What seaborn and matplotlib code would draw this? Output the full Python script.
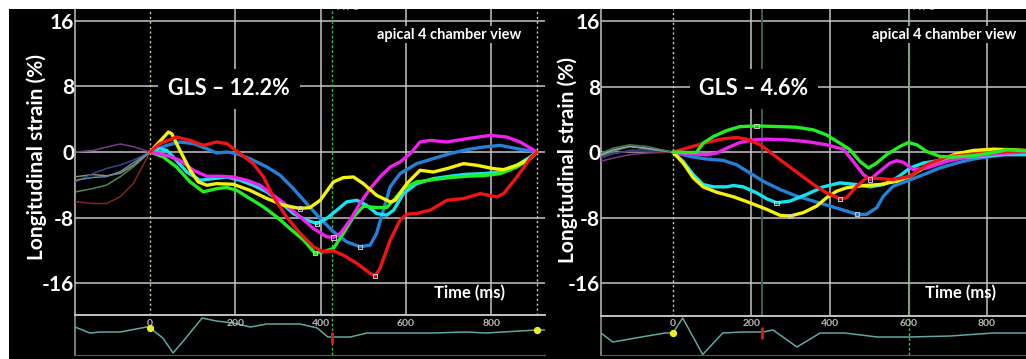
import matplotlib
matplotlib.use("Agg")
import matplotlib.pyplot as plt
import matplotlib.transforms as mtrans
from matplotlib.patches import Rectangle
import seaborn as sns
import pandas as pd
import numpy as np

# ---------------- data: left panel (GLS -12.2%) ----------------
L_yellow_t = [0, 43, 51, 70, 94, 113, 133, 156, 195, 234, 274, 313, 352, 375, 399, 430, 453, 477, 500, 531, 563, 575, 602, 633, 664, 696, 735, 766, 805, 829, 860, 891, 907]
L_yellow_v = [0, 2.44, 2.23, 0.2, -2.23, -3.65, -4.06, -3.86, -3.94, -4.67, -5.68, -6.5, -6.9, -6.78, -5.89, -3.65, -3.13, -3.05, -3.86, -5.28, -6.09, -5.89, -3.86, -2.23, -2.44, -2.03, -1.42, -1.62, -2.03, -2.15, -1.62, -0.81, 0]
L_red_t = [0, 23, 62, 94, 125, 156, 180, 211, 242, 266, 289, 320, 352, 383, 406, 430, 453, 485, 516, 528, 539, 563, 586, 602, 625, 657, 696, 735, 774, 813, 829, 860, 891, 907]
L_red_v = [0, 1.02, 1.83, 1.42, 0.81, 1.22, 1.02, -0.2, -1.42, -3.05, -5.48, -7.92, -9.95, -11.57, -12.18, -12.06, -12.59, -13.6, -14.82, -15.14, -14.21, -10.76, -8.32, -7.59, -7.51, -7.1, -5.89, -5.68, -5.08, -5.48, -5.08, -3.05, -0.81, 0]
L_blue_t = [0, 39, 70, 102, 133, 156, 180, 203, 234, 274, 305, 336, 367, 399, 430, 461, 492, 516, 531, 547, 563, 586, 625, 664, 703, 742, 782, 821, 860, 907]
L_blue_v = [0, 0.81, 1.22, 1.02, 0.41, -0.12, 0, -0.2, -0.81, -1.83, -2.84, -4.47, -6.29, -8.12, -9.74, -10.96, -11.57, -11.37, -9.95, -7.1, -4.26, -2.64, -1.42, -0.81, -0.2, 0.28, 0.61, 0.81, 0.41, 0]
L_cyan_t = [0, 23, 39, 62, 86, 117, 148, 180, 211, 242, 274, 305, 336, 367, 391, 414, 438, 461, 485, 508, 531, 555, 571, 594, 625, 664, 703, 742, 782, 821, 860, 891, 907]
L_cyan_v = [0, 0.41, 0.2, -1.02, -2.44, -3.45, -3.25, -3.05, -3.45, -4.06, -4.87, -6.09, -7.51, -8.32, -8.73, -8.12, -7.1, -6.09, -5.89, -6.5, -7.51, -7.71, -7.1, -5.08, -3.86, -3.25, -2.96, -2.72, -2.64, -2.44, -1.62, -0.61, 0]
L_magenta_t = [0, 39, 70, 102, 133, 164, 195, 227, 258, 289, 320, 352, 383, 414, 430, 446, 469, 492, 516, 539, 563, 586, 610, 633, 657, 696, 742, 797, 836, 868, 907]
L_magenta_v = [0, -0.41, -1.02, -2.23, -2.96, -2.96, -3.05, -3.45, -4.06, -5.28, -6.5, -7.92, -9.34, -10.35, -10.43, -9.95, -8.32, -6.29, -4.47, -3.05, -1.83, -1.22, -0.2, 1.22, 1.42, 1.22, 1.62, 2.03, 1.83, 1.22, 0]
L_green_t = [0, 31, 62, 94, 125, 156, 180, 203, 234, 266, 297, 328, 360, 387, 406, 430, 453, 477, 500, 531, 555, 571, 594, 625, 664, 703, 742, 782, 821, 860, 891, 907]
L_green_v = [0, -0.61, -1.83, -3.65, -4.87, -4.47, -4.34, -4.67, -5.68, -6.7, -7.92, -9.34, -10.76, -12.38, -12.18, -11.77, -9.95, -7.92, -6.62, -6.78, -6.78, -5.89, -4.47, -3.65, -3.37, -3.13, -2.96, -2.88, -2.64, -1.83, -0.81, 0]

# thin traces before the reference point
L_pre_t = [-174, -133, -102, -70, -39, 0]
L_pre_purple = [0, 0.2, 0.6, 0.98, 0.65, 0]
L_pre_darkred = [-6.08, -6.29, -6.29, -5.47, -3.84, 0]
L_pre_olive = [-4.86, -4.45, -4.04, -3.02, -1.8, 0]
L_pre_tan = [-3.02, -2.75, -2.9, -2.6, -1.6, 0]
L_pre_navy = [-3.63, -2.61, -2.0, -1.59, -0.98, 0]
L_pre_slate = [-3.43, -3.1, -3.0, -2.4, -1.3, 0]

L_ecg_t = [-176, -141, -117, -70, -8, 0, 30, 54, 80, 122, 155, 195, 235, 274, 352, 392, 417, 469, 509, 586, 663, 741, 788, 907, 926]
L_ecg_v = [0.8, 0.2, 0.3, 0.3, 0.8, 0.7, -0.3, -1.8, -0.5, 1.7, 1.4, 1.2, 0.8, 1.1, 1.1, 0.7, -0.2, -0.2, 0.2, 0.2, 0.2, 0.3, 0.2, 0.5, 0.5]

# ---------------- data: right panel (GLS -4.6%) ----------------
R_green_t = [0, 35, 60, 77, 103, 137, 171, 213, 273, 315, 358, 391, 425, 451, 476, 498, 519, 544, 578, 600, 621, 646, 680, 714, 765, 808, 850, 899]
R_green_v = [0, -0.04, -0.04, 1.09, 1.9, 2.63, 3.11, 3.19, 3.11, 3.03, 2.71, 2.1, 1.09, 0.28, -1.13, -1.94, -1.33, -0.32, 0.69, 1.17, 0.89, 0.08, -0.53, -0.61, -0.44, -0.12, 0.28, 0.16]
R_red_t = [0, 35, 86, 128, 162, 188, 222, 256, 290, 324, 358, 391, 425, 442, 468, 493, 527, 561, 604, 646, 697, 748, 799, 850, 899]
R_red_v = [0, 0.48, 1.17, 1.62, 1.78, 1.58, 0.89, -0.32, -1.54, -2.75, -3.96, -4.97, -5.7, -5.58, -4.16, -3.15, -3.23, -3.35, -2.95, -1.54, -0.61, -0.32, -0.12, 0.08, 0.16]
R_magenta_t = [0, 43, 86, 111, 137, 171, 205, 239, 290, 340, 391, 434, 459, 485, 502, 527, 553, 570, 587, 612, 646, 697, 748, 799, 850, 899]
R_magenta_v = [0, -0.2, -0.32, -0.12, 0.48, 1.17, 1.49, 1.58, 1.49, 1.29, 0.89, 0.36, -1.13, -2.75, -3.35, -2.34, -1.33, -1.05, -1.25, -2.14, -1.94, -1.13, -0.61, -0.32, -0.12, 0]
R_blue_t = [0, 43, 86, 128, 162, 196, 230, 273, 315, 358, 400, 442, 468, 493, 519, 536, 561, 595, 638, 680, 723, 765, 808, 850, 899]
R_blue_v = [0, -0.53, -0.85, -1.01, -1.54, -2.55, -3.56, -4.57, -5.37, -5.98, -6.59, -7.19, -7.6, -7.6, -6.79, -5.37, -4.16, -3.56, -2.75, -1.94, -1.33, -0.85, -0.53, -0.24, -0.12]
R_cyan_t = [0, 26, 52, 77, 103, 137, 154, 179, 213, 239, 264, 298, 340, 383, 425, 468, 502, 536, 570, 604, 638, 680, 723, 782, 842, 899]
R_cyan_v = [0, -1.13, -2.75, -3.96, -4.24, -4.24, -4.08, -4.24, -4.97, -5.7, -6.18, -5.98, -5.17, -4.24, -3.76, -3.96, -4.24, -3.96, -3.15, -1.94, -1.33, -1.01, -0.73, -0.53, -0.32, -0.32]
R_yellow_t = [0, 26, 52, 77, 111, 154, 196, 239, 273, 298, 332, 366, 391, 417, 442, 485, 527, 570, 604, 638, 680, 723, 765, 816, 867, 899]
R_yellow_v = [0, -1.33, -3.15, -4.24, -4.89, -5.45, -6.18, -6.99, -7.72, -7.8, -7.39, -6.59, -5.58, -4.77, -4.36, -4.08, -3.96, -3.56, -2.95, -1.94, -0.93, -0.2, 0.2, 0.36, 0.28, 0.2]

R_pre_t = [-183, -152, -110, -67, 0]
R_pre_dkgreen = [-0.12, 0.48, 0.89, 0.69, 0]
R_pre_gray = [-0.32, 0.28, 0.69, 0.48, 0]
R_pre_purple = [-1.13, -0.73, -0.32, -0.12, 0]
R_pre_darkred = [-0.53, -0.12, 0.08, 0.08, 0]
R_pre_navy = [-0.73, -0.2, 0.2, 0.28, 0]
R_pre_teal = [-0.45, 0.1, 0.7, 0.4, 0]

R_ecg_t = [-183, -153, -80, -20, 0, 25, 76, 127, 178, 229, 255, 316, 375, 438, 520, 604, 706, 815, 899]
R_ecg_v = [0.2, -0.7, -0.2, 0.2, 0.2, 1.7, -1.95, 0.2, 0.3, 0.3, 0.5, -1.2, 0.2, 0.2, -0.2, -0.2, -0.1, 0.2, 0.2]

seg_colors = {'blue': '#2481d8', 'cyan': '#14e4f2', 'green': '#22ee22',
              'magenta': '#ee22ee', 'yellow': '#f6f20c', 'red': '#f21414'}
pre_colors = {'purple': '#7a3a86', 'darkred': '#862222', 'olive': '#4e8a50',
              'tan': '#958a68', 'navy': '#34458e', 'slate': '#5f86aa',
              'dkgreen': '#3f7d52', 'gray': '#a0a0a0', 'teal': '#3e8c8c'}

W, H = 1026, 359
GRID = '#c4c4c4'

sns.set_theme(style='dark')
plt.rcParams['font.family'] = ['Lato', 'DejaVu Sans']
plt.rcParams['font.weight'] = 'bold'
plt.rcParams['axes.unicode_minus'] = False

fig = plt.figure(figsize=(W / 100, H / 100), dpi=100, facecolor='white')
fig.add_artist(Rectangle((9 / W, 0), 1 - 9 / W, 1 - 9 / H, transform=fig.transFigure,
                         fc='black', ec='none', zorder=-10))


def box(x0, y0, x1, y1):
    return [x0 / W, 1 - y1 / H, (x1 - x0) / W, (y1 - y0) / H]


def long_df(curves):
    rows = []
    for name, (t, v) in curves.items():
        rows.append(pd.DataFrame({'t': t, 'v': v, 'seg': name}))
    return pd.concat(rows, ignore_index=True)


def panel(main_box, ecg_box, xlim, ylim, ecg_ylim, curves, pre, ecg_t, ecg_v,
          t_end, t_avc, gls, ylab_xy, ecg_dots, red_mark, extra_line=None):
    ax = fig.add_axes(box(*main_box))
    ax.set_facecolor('none')
    ax.set_xlim(*xlim)
    ax.set_ylim(*ylim)
    ax.set_yticks([16, 8, 0, -8, -16])
    ax.set_xticks([200, 400, 600, 800])
    ax.set_xticklabels([])
    ax.grid(True, color=GRID, lw=1.1)
    ax.tick_params(axis='y', length=0, pad=0.5, labelsize=15, labelcolor='white')
    ax.tick_params(axis='x', length=0)
    for s in ['top', 'right', 'bottom']:
        ax.spines[s].set_visible(False)
    ax.spines['left'].set_color(GRID)
    ax.spines['left'].set_linewidth(1.1)
    for lab in ax.get_yticklabels():
        lab.set_fontweight('bold')
        lab.set_bbox(dict(fc='black', ec='none', pad=0.3))

    ax.axvline(0, color='#d6d2a8', lw=1, ls=(0, (1.5, 2)), zorder=2)
    ax.axvline(t_end, color='#d6d2a8', lw=1, ls=(0, (1.5, 2)), zorder=2)
    ax.axvline(t_avc, color='#3cbc3c', lw=1, ls=(0, (2, 1.5)), zorder=2)
    if extra_line is not None:
        ax.axvline(extra_line, color='#3f6650', lw=1.3, zorder=2)
    ax.text(t_avc + 10, ylim[1] + 0.35, 'AVC', color='#3cbc3c', fontsize=8,
            ha='left', va='center', clip_on=True)

    pdf = long_df(pre)
    sns.lineplot(data=pdf, x='t', y='v', hue='seg', palette=pre_colors, ax=ax,
                 lw=1.1, legend=False, sort=False, estimator=None, zorder=3)
    df = long_df(curves)
    sns.lineplot(data=df, x='t', y='v', hue='seg', palette=seg_colors, ax=ax,
                 lw=2.4, legend=False, sort=False, estimator=None, zorder=4)
    for name, (t, v) in curves.items():
        i = int(np.argmax(np.abs(v)))
        ax.scatter([t[i]], [v[i]], marker='s', s=9, facecolors='none',
                   edgecolors='#c8c8c8', linewidths=0.7, zorder=5)
    ax.set_xlabel('')
    ax.set_ylabel('')

    ax.text(gls[0], gls[1], gls[2], color='white', fontsize=15.5, fontweight='bold',
            ha='center', va='center', zorder=6,
            bbox=dict(boxstyle='square,pad=0.45', fc='black', ec='none'))
    ax.text(gls[3], 14.3, 'apical 4 chamber view', color='white', fontsize=10.5,
            fontweight='bold', ha='center', va='center', zorder=6,
            bbox=dict(boxstyle='square,pad=0.1', fc='black', ec='none'))
    ax.text(gls[4], -17.2, 'Time (ms)', color='white', fontsize=12,
            fontweight='bold', ha='center', va='center', zorder=6)
    fig.text(ylab_xy[0] / W, 1 - ylab_xy[1] / H, 'Longitudinal strain (%)',
             rotation=90, color='white', fontsize=15, fontweight='bold',
             ha='center', va='center')

    # ECG strip
    ex = fig.add_axes(box(*ecg_box))
    ex.set_facecolor('none')
    ex.set_xlim(*xlim)
    ex.set_ylim(*ecg_ylim)
    sns.lineplot(x=ecg_t, y=ecg_v, ax=ex, color='#5fa9a2', lw=1.1, sort=False,
                 estimator=None)
    ex.axvline(t_avc, color='#3cbc3c', lw=1, ls=(0, (2, 1.5)))
    ex.plot([red_mark[0]] * 2, red_mark[1:], color='#e01818', lw=2)
    ex.scatter(ecg_dots[0], ecg_dots[1], s=18, color='#eeee22', zorder=5)
    ex.set_xticks(np.arange(-80, xlim[1], 100))
    ex.set_xticklabels([])
    ex.set_yticks([])
    ex.tick_params(axis='x', direction='in', length=3, color='#8a8a8a', width=1)
    ex.spines['right'].set_visible(False)
    ex.spines['top'].set_color(GRID)
    ex.spines['top'].set_linewidth(1.4)
    ex.spines['left'].set_color('#8a8a8a')
    ex.spines['bottom'].set_color('#5a5a5a')
    ex.spines['bottom'].set_linewidth(0.8)
    tr = mtrans.blended_transform_factory(ex.transData, ex.transAxes)
    for tt in [0, 200, 400, 600, 800]:
        ex.text(tt, 0.8, str(tt), transform=tr, color='#b8b8b8', fontsize=7.5,
                fontweight='bold', ha='center', va='center')
    ex.grid(False)
    return ax


left_curves = {'blue': (L_blue_t, L_blue_v), 'cyan': (L_cyan_t, L_cyan_v),
               'green': (L_green_t, L_green_v), 'magenta': (L_magenta_t, L_magenta_v),
               'yellow': (L_yellow_t, L_yellow_v), 'red': (L_red_t, L_red_v)}
left_pre = {'purple': (L_pre_t, L_pre_purple), 'darkred': (L_pre_t, L_pre_darkred),
            'olive': (L_pre_t, L_pre_olive), 'tan': (L_pre_t, L_pre_tan),
            'navy': (L_pre_t, L_pre_navy), 'slate': (L_pre_t, L_pre_slate)}
right_curves = {'blue': (R_blue_t, R_blue_v), 'cyan': (R_cyan_t, R_cyan_v),
                'yellow': (R_yellow_t, R_yellow_v), 'magenta': (R_magenta_t, R_magenta_v),
                'red': (R_red_t, R_red_v), 'green': (R_green_t, R_green_v)}
right_pre = {'purple': (R_pre_t, R_pre_purple), 'darkred': (R_pre_t, R_pre_darkred),
             'navy': (R_pre_t, R_pre_navy), 'teal': (R_pre_t, R_pre_teal),
             'gray': (R_pre_t, R_pre_gray), 'dkgreen': (R_pre_t, R_pre_dkgreen)}

panel((75, 9, 545, 315), (75, 315, 545, 355), (-176, 926), (-19.9, 17.46), (-2.0, 2.0),
      left_curves, left_pre, L_ecg_t, L_ecg_v, 907, 427,
      (185, 7.7, 'GLS \u2013 12.2%', 701, 748), (37, 157),
      ([0, 907], [0.7, 0.5]), (427, 0.2, -0.8))

panel((601, 9, 1026, 316), (601, 316, 1026, 355), (-183, 899), (-20.0, 17.46), (-2.0, 1.9),
      right_curves, right_pre, R_ecg_t, R_ecg_v, 2000, 600,
      (206, 7.7, 'GLS \u2013 4.6%', 690, 731), (568, 160),
      ([0], [0.2]), (227, 0.7, -0.3), extra_line=227)

fig.savefig('out.png', dpi=100, facecolor='white')
